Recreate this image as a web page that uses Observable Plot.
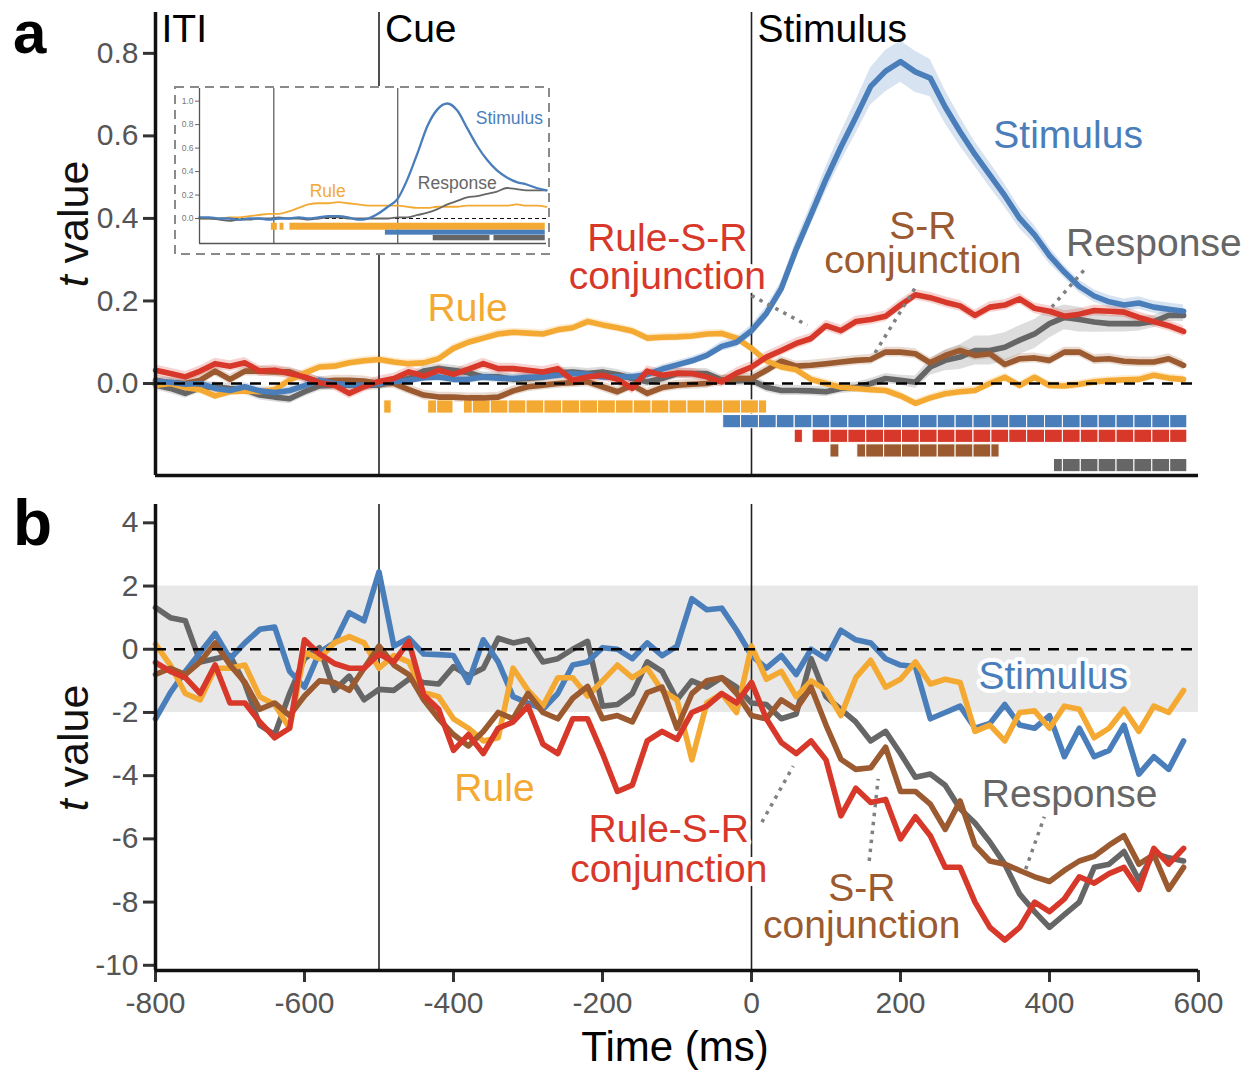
<!DOCTYPE html>
<html><head><meta charset="utf-8">
<script src="https://cdn.jsdelivr.net/npm/d3@7"></script>
<script src="https://cdn.jsdelivr.net/npm/@observablehq/plot@0.6"></script>
<style>
body{margin:0;background:#fff;}
#wrap{position:relative;width:1251px;height:1074px;overflow:hidden;background:#fff;}
</style></head><body><div id="wrap"></div>
<script>
// ---------- DATA ----------
const timeA = d3.range(-800, 581, 20);      // sample times (ms), panels a & b
const timeInset = d3.range(-800, 601, 40);  // sample times (ms), inset

// Panel a: mean t value (RSA) per factor
const ruleA = [-0.005,0.0,-0.01,-0.015,-0.03,-0.02,-0.018,-0.02,-0.015,0.008,
 0.025,0.04,0.042,0.05,0.055,0.058,0.052,0.048,0.05,0.06,
 0.085,0.1,0.11,0.12,0.124,0.122,0.12,0.13,0.135,0.15,
 0.142,0.135,0.127,0.11,0.112,0.113,0.115,0.12,0.121,0.11,
 0.085,0.055,0.04,0.033,0.01,0.0,-0.009,-0.012,-0.015,-0.017,
 -0.03,-0.048,-0.035,-0.025,-0.02,-0.017,0.0,0.015,-0.005,0.015,
 -0.005,-0.006,-0.002,0.004,0.007,0.009,0.01,0.02,0.013,0.01];
const stimA = [0.005,0.003,-0.002,0.0,-0.012,-0.017,-0.008,-0.018,-0.022,-0.017,
 -0.005,0.008,0.0,-0.003,-0.005,0.0,0.004,0.008,0.014,0.016,
 0.01,0.01,0.016,0.013,0.012,0.015,0.016,0.02,0.024,0.022,
 0.016,0.016,0.016,0.022,0.035,0.045,0.055,0.068,0.09,0.1,
 0.128,0.17,0.23,0.325,0.41,0.495,0.573,0.645,0.72,0.757,
 0.78,0.755,0.74,0.67,0.61,0.555,0.505,0.455,0.4,0.36,
 0.31,0.27,0.235,0.212,0.198,0.19,0.195,0.185,0.18,0.175];
const rsrA = [0.032,0.024,0.016,0.03,0.048,0.042,0.05,0.03,0.032,0.024,
 0.016,0.002,-0.004,-0.024,-0.008,0.005,0.012,0.028,0.018,0.032,
 0.022,0.035,0.048,0.036,0.036,0.032,0.028,0.036,0.008,0.016,
 0.02,0.01,-0.012,0.03,0.02,0.025,0.024,0.016,0.004,0.025,
 0.04,0.064,0.08,0.097,0.109,0.14,0.128,0.15,0.155,0.163,
 0.19,0.215,0.208,0.197,0.188,0.165,0.185,0.19,0.205,0.182,
 0.175,0.163,0.168,0.177,0.175,0.173,0.16,0.15,0.14,0.126];
const srA = [0.008,0.002,0.0,0.008,0.03,0.01,0.03,0.03,0.028,0.028,
 0.015,0.004,0.008,0.008,0.006,0.0,0.0,-0.015,-0.028,-0.033,
 -0.033,-0.035,-0.035,-0.033,-0.018,-0.008,-0.004,0.0,0.002,0.004,
 -0.008,-0.02,-0.004,-0.024,-0.01,-0.004,-0.002,0.0,0.008,0.012,
 0.012,0.032,0.054,0.042,0.044,0.048,0.052,0.056,0.058,0.076,
 0.076,0.072,0.05,0.068,0.08,0.068,0.072,0.046,0.06,0.062,
 0.056,0.076,0.076,0.058,0.06,0.054,0.052,0.052,0.06,0.044];
const respA = [-0.004,-0.012,-0.024,-0.01,-0.008,-0.012,-0.015,-0.028,-0.033,-0.037,
 -0.02,-0.006,-0.004,-0.004,-0.004,-0.004,0.005,0.012,0.03,0.036,
 0.032,0.026,0.016,0.016,0.01,0.012,0.016,0.026,0.028,0.024,
 0.028,0.022,0.012,0.004,0.012,0.024,0.024,0.024,0.008,0.006,
 0.008,-0.009,-0.017,-0.017,-0.018,-0.02,-0.012,-0.009,0.0,0.012,
 0.008,0.003,0.04,0.056,0.064,0.08,0.08,0.088,0.105,0.12,
 0.145,0.16,0.155,0.149,0.145,0.145,0.145,0.15,0.165,0.165];
// standard errors (ribbons)
const seStimA = [0.01,0.01,0.01,0.01,0.01,0.01,0.01,0.01,0.01,0.01,
 0.01,0.01,0.01,0.01,0.01,0.01,0.01,0.01,0.01,0.01,
 0.01,0.01,0.01,0.01,0.01,0.01,0.01,0.01,0.01,0.01,
 0.01,0.01,0.01,0.01,0.01,0.01,0.01,0.01,0.012,0.012,
 0.014,0.016,0.018,0.022,0.025,0.03,0.035,0.04,0.045,0.05,
 0.05,0.05,0.045,0.04,0.035,0.03,0.03,0.028,0.025,0.022,
 0.02,0.015,0.015,0.015,0.015,0.015,0.015,0.015,0.015,0.015];
const seRespA = [0.012,0.012,0.012,0.012,0.012,0.012,0.012,0.012,0.012,0.012,
 0.012,0.012,0.012,0.012,0.012,0.012,0.012,0.012,0.012,0.012,
 0.012,0.012,0.012,0.012,0.012,0.012,0.012,0.012,0.012,0.012,
 0.012,0.012,0.012,0.012,0.012,0.012,0.012,0.012,0.012,0.012,
 0.012,0.012,0.012,0.012,0.012,0.012,0.012,0.012,0.012,0.012,
 0.012,0.015,0.02,0.025,0.03,0.035,0.035,0.035,0.035,0.035,
 0.035,0.03,0.03,0.025,0.02,0.02,0.018,0.015,0.015,0.015];
const seRuleA = 0.01, seRsrA = 0.013, seSrA = 0.012;

// Panel a: significant time windows (ms)
const sigRule = [[-493,-483],[-434,-400],[-386,21]];
const sigStim = [[-38,585]];
const sigRsr  = [[58,69],[82,585]];
const sigSr   = [[106,118],[142,333]];
const sigResp = [[406,585]];

// Panel b: t value per factor
const stimB = [-2.2,-1.37,-0.7,-0.1,0.5,-0.3,0.2,0.63,0.7,-0.7,
 -1.2,-0.1,0.2,1.16,0.9,2.45,0.1,0.35,-0.15,-0.17,
 -0.2,-1.05,0.3,-0.4,-1.5,-1.7,-1.9,-1.4,-0.5,-0.4,
 0.05,0.0,-0.3,0.2,-0.2,0.1,1.6,1.25,1.3,0.6,
 -0.2,-0.6,-0.2,-0.8,0.0,-0.3,0.6,0.3,0.2,-0.3,
 -0.5,-0.55,-2.2,-2.0,-1.8,-2.5,-2.35,-1.75,-2.4,-2.5,
 -2.1,-3.4,-2.5,-3.4,-3.2,-2.4,-3.95,-3.4,-3.8,-2.9];
const ruleB = [0.16,-0.5,-1.4,-1.6,-0.6,-0.6,-0.5,-1.5,-1.75,-2.5,
 -0.1,-0.3,0.2,0.4,0.2,-0.6,-0.2,-0.4,-1.37,-1.5,
 -2.2,-2.5,-2.9,-2.8,-0.6,-1.3,-1.8,-0.9,-0.9,-1.48,
 -1.0,-0.5,-0.9,-0.6,-1.3,-1.6,-3.5,-1.7,-1.4,-2.0,
 0.1,-0.95,-0.7,-1.5,-1.0,-1.3,-2.1,-0.9,-0.35,-1.2,
 -0.95,-0.4,-1.1,-0.95,-1.05,-2.6,-2.4,-2.9,-2.0,-1.95,
 -2.5,-1.8,-1.9,-2.8,-2.5,-1.9,-2.6,-1.8,-2.0,-1.3];
const respB = [1.32,1.0,0.9,-0.4,-0.3,-0.2,-1.1,-2.4,-2.7,-1.4,
 -0.3,0.05,-1.3,-0.85,-1.6,-1.27,-1.3,-0.95,-1.05,-1.1,
 -0.55,-0.84,-0.6,0.35,0.2,0.3,-0.4,-0.3,0.0,0.25,
 -1.8,-1.75,-1.4,-0.4,-0.7,-1.6,-1.0,-1.2,-0.9,-1.2,
 -1.7,-1.75,-2.2,-2.05,-0.3,-1.5,-1.9,-2.3,-2.9,-2.6,
 -3.3,-4.05,-3.95,-4.3,-5.05,-5.5,-6.1,-6.8,-7.75,-8.3,
 -8.8,-8.4,-8.0,-6.9,-6.8,-6.4,-7.3,-6.45,-6.6,-6.7];
const srB = [-0.8,-0.6,-0.8,-0.4,0.2,-0.5,-1.05,-1.9,-1.7,-2.1,
 -1.48,-1.0,-1.05,-1.3,-0.6,0.1,-0.5,-0.8,-1.6,-2.2,
 -2.7,-3.06,-2.6,-2.0,-2.2,-1.4,-2.0,-2.2,-1.55,-1.18,
 -2.2,-2.1,-2.3,-1.37,-1.2,-2.5,-1.4,-1.0,-0.9,-1.4,
 -2.1,-2.2,-1.6,-1.9,-1.2,-2.4,-3.48,-3.8,-3.75,-3.1,
 -4.5,-4.5,-4.9,-5.7,-4.8,-6.2,-6.7,-6.8,-7.0,-7.2,
 -7.35,-7.0,-6.7,-6.55,-6.2,-5.9,-6.8,-6.5,-7.6,-6.9];
const rsrB = [-0.42,-0.7,-0.9,-1.4,-0.5,-1.7,-1.7,-2.3,-2.8,-2.5,
 0.3,-0.15,-0.45,-0.6,-0.6,-0.15,-0.4,0.25,-1.45,-1.9,
 -3.2,-2.7,-3.3,-2.5,-2.3,-1.8,-3.0,-3.3,-2.2,-2.2,
 -3.3,-4.5,-4.3,-2.9,-2.6,-2.85,-2.0,-1.8,-1.4,-1.7,
 -1.05,-2.2,-2.95,-3.3,-2.9,-3.5,-5.27,-4.4,-4.85,-4.75,
 -6.0,-5.3,-5.9,-6.9,-6.9,-8.0,-8.8,-9.2,-8.8,-8.0,
 -8.3,-7.9,-7.2,-7.4,-7.1,-6.9,-7.6,-6.3,-6.8,-6.3];
const thresholdBand = [-2, 2];

// Inset
const insetStim = [0.01,0.01,0.0,0.0,-0.01,0.0,0.0,-0.01,0.0,0.0,0.01,0.0,0.01,0.02,0.02,0.01,-0.01,0.0,
 0.04,0.1,0.17,0.34,0.56,0.79,0.93,0.98,0.92,0.77,0.62,0.5,0.41,0.35,0.31,0.29,0.26,0.24];
const insetResp = [0.0,0.0,-0.01,-0.02,-0.01,-0.01,0.0,0.0,0.01,0.0,0.0,-0.01,0.0,0.01,0.01,0.0,0.0,0.0,
 0.0,0.0,0.01,0.01,0.03,0.05,0.08,0.12,0.15,0.18,0.19,0.21,0.23,0.26,0.25,0.24,0.24,0.24];
const insetRule = [0.0,0.0,0.0,0.01,0.01,0.02,0.03,0.04,0.04,0.06,0.09,0.12,0.13,0.13,0.14,0.13,0.12,0.11,
 0.11,0.11,0.11,0.1,0.09,0.09,0.1,0.1,0.1,0.11,0.11,0.11,0.11,0.11,0.12,0.11,0.11,0.1];
const insetSigRule = [[-510,-486],[-475,-459],[-435,595]];
const insetSigStim = [[-50,595]];
const insetSigResp = [[143,372],[388,595]];

// Tick labels / categories
const phaseLabels = ["ITI", "Cue", "Stimulus"];
const phaseOnsets = [-800, -500, 0];
const xTicks = [-800, -600, -400, -200, 0, 200, 400, 600];
const yTicksA = [0, 0.2, 0.4, 0.6, 0.8];
const yTicksB = [-10, -8, -6, -4, -2, 0, 2, 4];
const yTicksInset = [0, 0.2, 0.4, 0.6, 0.8, 1.0];

// ---------- STYLE ----------
const C = {rule:"#f4a933", stim:"#4a7ebb", resp:"#666666", sr:"#9b5a2f", rsr:"#d7382a"};
const FONT = '"Liberation Sans", Arial, Helvetica, sans-serif';
const xDomain = [-800, 600];
const yA = [-0.223, 0.899];
const yB = [-10.165, 4.58];
const yIn = [-0.213, 1.108];
const LW = 5.6;
const hyphenInt = d => String(Math.round(d));   // ASCII hyphen-minus like the reference
const oneDec = d => d.toFixed(1);

function rows(time, vals, se) {
  return time.map((t, i) => {
    const s = se == null ? 0 : (typeof se === "number" ? se : se[i]);
    return {t, v: vals[i], lo: vals[i] - s, hi: vals[i] + s};
  });
}
// split significance windows into cells on a fixed time-bin grid
const gridOrigin = -38, gridStep = 24;
function cells(intervals, row, color) {
  const out = [];
  for (const [s, e] of intervals) {
    let b = gridOrigin + Math.floor((s - gridOrigin) / gridStep) * gridStep;
    for (; b < e; b += gridStep) {
      const x1 = Math.max(s, b), x2 = Math.min(e, b + gridStep);
      if (x2 > x1) out.push({x1, x2, row, color});
    }
  }
  return out;
}
const rowTop = -0.041, rowPitch = 0.0355, rowH = 0.032;

const wrap = document.getElementById("wrap");
function place(svg, left, top) {
  svg.style.position = "absolute";
  svg.style.left = left + "px";
  svg.style.top = top + "px";
  wrap.appendChild(svg);
}

// ---------- PANEL A ----------
const seriesA = [
  {key:"resp", vals: respA, se: seRespA},
  {key:"sr", vals: srA, se: seSrA},
  {key:"rule", vals: ruleA, se: seRuleA},
  {key:"stim", vals: stimA, se: seStimA},
  {key:"rsr", vals: rsrA, se: seRsrA}
];
const sigCells = [
  ...cells(sigRule, 0, C.rule), ...cells(sigStim, 1, C.stim), ...cells(sigRsr, 2, C.rsr),
  ...cells(sigSr, 3, C.sr), ...cells(sigResp, 4, C.resp)
];
const labelsA = [
  {text:"Stimulus", x:425, y:0.6, color:C.stim, lh:1},
  {text:"S-R\nconjunction", x:230, y:0.335, color:C.sr, lh:0.87},
  {text:"Rule-S-R\nconjunction", x:-113, y:0.305, color:C.rsr, lh:0.97},
  {text:"Response", x:540, y:0.34, color:C.resp, lh:1},
  {text:"Rule", x:-381, y:0.182, color:C.rule, lh:1}
];
const leadersA = [
  {x1:0, y1:0.213, x2:75, y2:0.141},
  {x1:219, y1:0.23, x2:162, y2:0.063},
  {x1:446, y1:0.274, x2:399, y2:0.177}
];
const phases = phaseLabels.map((label, i) => ({label, x: phaseOnsets[i]}));

function labelMarks(labels, size, halo) {
  return labels.map(l => Plot.text([l], {x:"x", y:"y", text:"text", fill:l.color, fontSize:size,
    fontFamily:FONT, lineHeight:l.lh, stroke:"white", strokeWidth:halo}));
}

const marksA = [];
for (const s of seriesA) marksA.push(Plot.areaY(rows(timeA, s.vals, s.se), {x:"t", y1:"lo", y2:"hi", fill:C[s.key], fillOpacity:0.22}));
marksA.push(Plot.ruleX(phaseOnsets.slice(1), {stroke:"#222", strokeWidth:1.6}));
marksA.push(Plot.rect(sigCells, {x1:"x1", x2:"x2", y1: d => rowTop - d.row*rowPitch, y2: d => rowTop - d.row*rowPitch - rowH, fill:"color", stroke:"white", strokeWidth:1}));
for (const s of seriesA) marksA.push(Plot.line(rows(timeA, s.vals, s.se), {x:"t", y:"v", stroke:C[s.key], strokeWidth:LW}));
marksA.push(Plot.ruleY([0], {stroke:"#000", strokeWidth:2.6, strokeDasharray:"11,8"}));
marksA.push(Plot.link(leadersA, {x1:"x1", y1:"y1", x2:"x2", y2:"y2", stroke:"#808080", strokeWidth:3.5, strokeDasharray:"3.5,5.5"}));
marksA.push(...labelMarks(labelsA, 39, 8));
marksA.push(Plot.text(phases, {x:"x", y:() => 0.858, text:"label", textAnchor:"start", dx:6, fontSize:39, fontFamily:FONT, fill:"#000"}));
marksA.push(Plot.axisY({ticks:yTicksA, tickFormat:oneDec, tickSize:12, tickPadding:5, fontSize:30, stroke:"#333", strokeWidth:3, fill:"#555", label:null}));
marksA.push(Plot.ruleX([xDomain[0]], {stroke:"#111", strokeWidth:3.5}));
marksA.push(Plot.ruleY([yA[0]], {stroke:"#111", strokeWidth:3.5}));

const panelA = Plot.plot({
  width:1251, height:490, marginLeft:155, marginRight:53, marginTop:12, marginBottom:15,
  x:{domain:xDomain, axis:null}, y:{domain:yA},
  style:{fontFamily:FONT, background:"transparent", overflow:"visible"},
  marks: marksA
});
place(panelA, 0, 0);

// ---------- PANEL B ----------
const seriesB = [
  {key:"resp", vals: respB},
  {key:"stim", vals: stimB},
  {key:"rule", vals: ruleB},
  {key:"sr", vals: srB},
  {key:"rsr", vals: rsrB}
];
const labelsB = [
  {text:"Stimulus", x:405, y:-0.86, color:C.stim, lh:1},
  {text:"Response", x:427, y:-4.59, color:C.resp, lh:1},
  {text:"Rule", x:-345, y:-4.4, color:C.rule, lh:1},
  {text:"Rule-S-R\nconjunction", x:-111, y:-6.33, color:C.rsr, lh:1.03},
  {text:"S-R\nconjunction", x:148, y:-8.18, color:C.sr, lh:0.95}
];
const leadersB = [
  {x1:14, y1:-5.47, x2:56, y2:-3.7},
  {x1:158, y1:-6.7, x2:170, y2:-4.1},
  {x1:368, y1:-6.96, x2:393, y2:-5.3}
];
const marksB = [];
marksB.push(Plot.rect([thresholdBand], {x1:() => xDomain[0], x2:() => xDomain[1], y1:d => d[0], y2:d => d[1], fill:"#e8e8e8"}));
marksB.push(Plot.ruleX(phaseOnsets.slice(1), {stroke:"#222", strokeWidth:1.6}));
for (const s of seriesB) marksB.push(Plot.line(rows(timeA, s.vals), {x:"t", y:"v", stroke:C[s.key], strokeWidth:LW}));
marksB.push(Plot.ruleY([0], {stroke:"#000", strokeWidth:2.6, strokeDasharray:"11,8"}));
marksB.push(Plot.link(leadersB, {x1:"x1", y1:"y1", x2:"x2", y2:"y2", stroke:"#808080", strokeWidth:3.5, strokeDasharray:"3.5,5.5"}));
marksB.push(...labelMarks(labelsB, 39, 8));
marksB.push(Plot.axisY({ticks:yTicksB, tickFormat:hyphenInt, tickSize:12, tickPadding:5, fontSize:30, stroke:"#333", strokeWidth:3, fill:"#555", label:null}));
marksB.push(Plot.axisX({ticks:xTicks, tickFormat:hyphenInt, tickSize:12, tickPadding:9, fontSize:30, stroke:"#333", strokeWidth:3, fill:"#555", label:null}));
marksB.push(Plot.ruleX([xDomain[0]], {stroke:"#111", strokeWidth:3.5}));
marksB.push(Plot.ruleY([yB[0]], {stroke:"#111", strokeWidth:3.5}));

const panelB = Plot.plot({
  width:1251, height:584, marginLeft:155, marginRight:53, marginTop:14, marginBottom:104,
  x:{domain:xDomain}, y:{domain:yB},
  style:{fontFamily:FONT, background:"transparent", overflow:"visible"},
  marks: marksB
});
place(panelB, 0, 490);

// ---------- INSET ----------
const insetSeries = [
  {key:"rule", vals: insetRule, w:1.8},
  {key:"resp", vals: insetResp, w:1.8},
  {key:"stim", vals: insetStim, w:2.3}
];
const insetBars = [
  ...insetSigRule.map(([a,b]) => ({x1:a, x2:b, y1:-0.04, y2:-0.1, color:C.rule})),
  ...insetSigStim.map(([a,b]) => ({x1:a, x2:b, y1:-0.1, y2:-0.142, color:C.stim})),
  ...insetSigResp.map(([a,b]) => ({x1:a, x2:b, y1:-0.145, y2:-0.19, color:C.resp}))
];
const insetLabels = [
  {text:"Stimulus", x:450, y:0.855, color:C.stim},
  {text:"Response", x:240, y:0.30, color:C.resp},
  {text:"Rule", x:-283, y:0.233, color:C.rule}
];
const marksI = [];
marksI.push(Plot.ruleX(phaseOnsets.slice(1), {stroke:"#333", strokeWidth:1}));
marksI.push(Plot.ruleY([0], {stroke:"#111", strokeWidth:1, strokeDasharray:"4,3"}));
marksI.push(Plot.rect(insetBars, {x1:"x1", x2:"x2", y1:"y1", y2:"y2", fill:"color"}));
for (const s of insetSeries) marksI.push(Plot.line(rows(timeInset, s.vals), {x:"t", y:"v", stroke:C[s.key], strokeWidth:s.w, curve:"monotone-x"}));
marksI.push(Plot.text(insetLabels, {x:"x", y:"y", text:"text", fill:"color", fontSize:17.5, fontFamily:FONT, stroke:"white", strokeWidth:3}));
marksI.push(Plot.axisY({ticks:yTicksInset, tickFormat:oneDec, tickSize:4, tickPadding:2, fontSize:8.5, stroke:"#666", strokeWidth:1, fill:"#777", label:null}));
marksI.push(Plot.ruleX([xDomain[0]], {stroke:"#555", strokeWidth:1.3}));
marksI.push(Plot.ruleY([yIn[0]], {stroke:"#555", strokeWidth:1.3}));
const inset = Plot.plot({
  width:376, height:169, marginLeft:25, marginRight:4, marginTop:2, marginBottom:12,
  x:{domain:xDomain, axis:null}, y:{domain:yIn},
  style:{fontFamily:FONT, background:"white", overflow:"visible"},
  marks: marksI
});
d3.select(inset).append("rect").attr("x",1).attr("y",1).attr("width",374).attr("height",167)
  .attr("fill","none").attr("stroke","#8a8a8a").attr("stroke-width",2).attr("stroke-dasharray","9,6");
place(inset, 174, 86);

// ---------- OVERLAY TEXT ----------
const ov = d3.create("svg").attr("width",1251).attr("height",1074)
  .style("position","absolute").style("left","0px").style("top","0px")
  .style("font-family", FONT);
ov.append("text").attr("x",13).attr("y",53).attr("font-size",60).attr("font-weight","bold").text("a");
ov.append("text").attr("x",13).attr("y",545).attr("font-size",64).attr("font-weight","bold").text("b");
for (const cy of [224, 748]) {
  const t = ov.append("text").attr("x",88).attr("y",cy).attr("text-anchor","middle")
    .attr("transform",`rotate(-90,88,${cy})`).attr("font-size",43).attr("fill","#111");
  t.append("tspan").attr("font-style","italic").text("t");
  t.append("tspan").text(" value");
}
ov.append("text").attr("x",675).attr("y",1061).attr("text-anchor","middle").attr("font-size",42).attr("fill","#000").text("Time (ms)");
wrap.appendChild(ov.node());
</script></body></html>
